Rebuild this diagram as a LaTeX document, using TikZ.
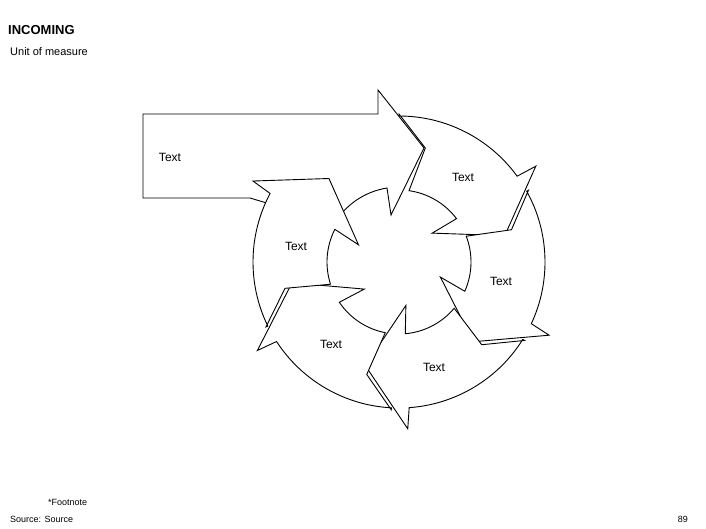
\documentclass[tikz,border=0pt]{standalone}
\usepackage{fontspec}
\setmainfont{Liberation Sans}
\begin{document}
\begin{tikzpicture}[x=1pt,y=-1pt,
  shp/.style={draw=black,fill=white,line width=0.9pt,line join=miter},
  lbl/.style={font=\fontsize{12}{14}\selectfont,inner sep=0pt}]
\useasboundingbox (0,0) rectangle (706,529);
\node[anchor=west,font=\bfseries\fontsize{13}{15}\selectfont,inner sep=0pt] (title) at (8,30) {INCOMING};
\node[anchor=west,font=\fontsize{11}{13}\selectfont,inner sep=0pt] (unit) at (10,52) {Unit of measure};
\node[anchor=west,font=\fontsize{9}{11}\selectfont,inner sep=0pt] (fn) at (48,502) {*Footnote};
\node[anchor=west,font=\fontsize{9}{11}\selectfont,inner sep=0pt] (src) at (10,519) {Source: Source};
\node[anchor=east,font=\fontsize{9}{11}\selectfont,inner sep=0pt] (pg) at (688,519) {89};
\coordinate (c) at (399,262);
% incoming arrow
\path[shp] (143,114) -- (378,114) -- (378,90) -- (424,148) -- (391,215) -- (387,188)
  arc[start angle=-99, end angle=-149, radius=75] -- (250,198) -- (143,198) -- cycle;
% cycle arrows
\foreach \t in {-53,8,69,130,191}{
  \path[shp,shift={(c)}] (\t-37:148) -- (\t-24:117) -- (\t-29:72)
    arc[start angle=\t-29, end angle=\t+16, radius=72]
    -- (\t+12:44) -- (\t+39:109) -- (\t+18:167) -- (\t+17:146)
    arc[start angle=\t+17, end angle=\t-37, radius=146] -- cycle;
}
\node[lbl] (t0) at (170,157) {Text};
\node[lbl] (t1) at (463,177) {Text};
\node[lbl] (t2) at (296,246) {Text};
\node[lbl] (t3) at (501,281) {Text};
\node[lbl] (t4) at (331,344) {Text};
\node[lbl] (t5) at (434,367) {Text};
\end{tikzpicture}
\end{document}
